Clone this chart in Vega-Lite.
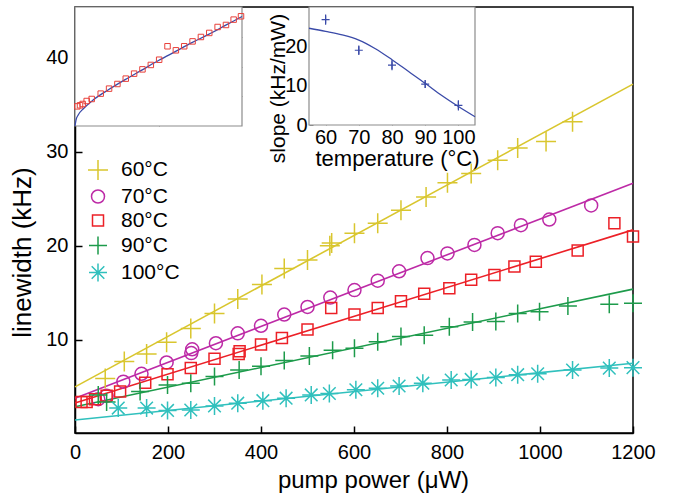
{
  "$schema": "https://vega.github.io/schema/vega-lite/v6.json",
  "width": 558,
  "height": 426,
  "autosize": {"type": "none"},
  "padding": {"left": 75, "top": 7, "right": 41, "bottom": 62},
  "background": "white",
  "config": {
    "font": "Liberation Sans",
    "view": {"stroke": "black", "strokeWidth": 1.5},
    "axis": {"grid": false, "labelFont": "Liberation Sans", "titleFont": "Liberation Sans", "labelColor": "black", "titleColor": "black", "titleFontWeight": "normal", "labelFlush": false, "labelOverlap": false},
    "legend": {"padding": 0, "labelFont": "Liberation Sans", "labelFontSize": 21, "labelColor": "black", "symbolStrokeWidth": 1.5, "rowPadding": 2, "labelOffset": 12}
  },
  "datasets": {
    "points": [
      {"series": "60°C", "x": 65, "y": 5.9}, {"series": "60°C", "x": 106, "y": 7.7}, {"series": "60°C", "x": 154, "y": 8.5}, {"series": "60°C", "x": 197, "y": 9.75}, {"series": "60°C", "x": 249, "y": 11.2}, {"series": "60°C", "x": 300, "y": 12.8}, {"series": "60°C", "x": 350, "y": 14.35}, {"series": "60°C", "x": 402, "y": 15.9}, {"series": "60°C", "x": 450, "y": 17.6}, {"series": "60°C", "x": 500, "y": 18.5}, {"series": "60°C", "x": 548, "y": 20.0}, {"series": "60°C", "x": 552, "y": 20.3}, {"series": "60°C", "x": 601, "y": 21.35}, {"series": "60°C", "x": 651, "y": 22.4}, {"series": "60°C", "x": 701, "y": 23.8}, {"series": "60°C", "x": 755, "y": 25.2}, {"series": "60°C", "x": 801, "y": 26.7}, {"series": "60°C", "x": 852, "y": 27.7}, {"series": "60°C", "x": 909, "y": 29.1}, {"series": "60°C", "x": 952, "y": 30.4}, {"series": "60°C", "x": 1013, "y": 31.1}, {"series": "60°C", "x": 1070, "y": 33.2},
      {"series": "70°C", "x": 50, "y": 3.7}, {"series": "70°C", "x": 68, "y": 4.05}, {"series": "70°C", "x": 104, "y": 5.56}, {"series": "70°C", "x": 143, "y": 6.4}, {"series": "70°C", "x": 197, "y": 7.6}, {"series": "70°C", "x": 250, "y": 8.6}, {"series": "70°C", "x": 252, "y": 9.0}, {"series": "70°C", "x": 303, "y": 9.65}, {"series": "70°C", "x": 350, "y": 10.7}, {"series": "70°C", "x": 400, "y": 11.5}, {"series": "70°C", "x": 450, "y": 12.7}, {"series": "70°C", "x": 500, "y": 13.5}, {"series": "70°C", "x": 549, "y": 14.5}, {"series": "70°C", "x": 601, "y": 15.3}, {"series": "70°C", "x": 651, "y": 16.3}, {"series": "70°C", "x": 697, "y": 17.3}, {"series": "70°C", "x": 758, "y": 18.7}, {"series": "70°C", "x": 801, "y": 19.2}, {"series": "70°C", "x": 859, "y": 20.1}, {"series": "70°C", "x": 909, "y": 21.35}, {"series": "70°C", "x": 959, "y": 22.2}, {"series": "70°C", "x": 1020, "y": 22.8}, {"series": "70°C", "x": 1110, "y": 24.3},
      {"series": "80°C", "x": 14, "y": 3.4}, {"series": "80°C", "x": 25, "y": 3.4}, {"series": "80°C", "x": 43, "y": 3.7}, {"series": "80°C", "x": 68, "y": 4.05}, {"series": "80°C", "x": 97, "y": 4.5}, {"series": "80°C", "x": 151, "y": 5.45}, {"series": "80°C", "x": 199, "y": 6.35}, {"series": "80°C", "x": 249, "y": 7.0}, {"series": "80°C", "x": 300, "y": 8.0}, {"series": "80°C", "x": 352, "y": 8.5}, {"series": "80°C", "x": 354, "y": 8.8}, {"series": "80°C", "x": 400, "y": 9.5}, {"series": "80°C", "x": 445, "y": 10.2}, {"series": "80°C", "x": 500, "y": 11.1}, {"series": "80°C", "x": 551, "y": 13.4}, {"series": "80°C", "x": 601, "y": 12.7}, {"series": "80°C", "x": 651, "y": 13.4}, {"series": "80°C", "x": 701, "y": 14.1}, {"series": "80°C", "x": 751, "y": 14.9}, {"series": "80°C", "x": 805, "y": 15.5}, {"series": "80°C", "x": 852, "y": 16.4}, {"series": "80°C", "x": 902, "y": 16.9}, {"series": "80°C", "x": 945, "y": 17.8}, {"series": "80°C", "x": 991, "y": 18.3}, {"series": "80°C", "x": 1081, "y": 19.5}, {"series": "80°C", "x": 1160, "y": 22.4}, {"series": "80°C", "x": 1200, "y": 21.0},
      {"series": "90°C", "x": 50, "y": 4.15}, {"series": "90°C", "x": 68, "y": 3.4}, {"series": "90°C", "x": 140, "y": 4.5}, {"series": "90°C", "x": 199, "y": 5.2}, {"series": "90°C", "x": 249, "y": 5.4}, {"series": "90°C", "x": 300, "y": 6.1}, {"series": "90°C", "x": 353, "y": 6.8}, {"series": "90°C", "x": 400, "y": 7.2}, {"series": "90°C", "x": 450, "y": 7.8}, {"series": "90°C", "x": 504, "y": 8.3}, {"series": "90°C", "x": 554, "y": 8.9}, {"series": "90°C", "x": 601, "y": 9.1}, {"series": "90°C", "x": 651, "y": 9.8}, {"series": "90°C", "x": 701, "y": 10.35}, {"series": "90°C", "x": 751, "y": 10.5}, {"series": "90°C", "x": 805, "y": 11.4}, {"series": "90°C", "x": 855, "y": 11.9}, {"series": "90°C", "x": 905, "y": 11.95}, {"series": "90°C", "x": 952, "y": 12.8}, {"series": "90°C", "x": 999, "y": 13.0}, {"series": "90°C", "x": 1060, "y": 13.6}, {"series": "90°C", "x": 1149, "y": 13.8}, {"series": "90°C", "x": 1200, "y": 13.9},
      {"series": "100°C", "x": 93, "y": 2.75}, {"series": "100°C", "x": 154, "y": 2.75}, {"series": "100°C", "x": 199, "y": 2.5}, {"series": "100°C", "x": 249, "y": 2.55}, {"series": "100°C", "x": 300, "y": 2.98}, {"series": "100°C", "x": 350, "y": 3.27}, {"series": "100°C", "x": 404, "y": 3.54}, {"series": "100°C", "x": 454, "y": 3.8}, {"series": "100°C", "x": 508, "y": 4.15}, {"series": "100°C", "x": 547, "y": 4.3}, {"series": "100°C", "x": 604, "y": 4.7}, {"series": "100°C", "x": 651, "y": 4.86}, {"series": "100°C", "x": 697, "y": 5.1}, {"series": "100°C", "x": 748, "y": 5.4}, {"series": "100°C", "x": 809, "y": 5.74}, {"series": "100°C", "x": 852, "y": 5.8}, {"series": "100°C", "x": 905, "y": 6.0}, {"series": "100°C", "x": 952, "y": 6.3}, {"series": "100°C", "x": 995, "y": 6.4}, {"series": "100°C", "x": 1070, "y": 6.8}, {"series": "100°C", "x": 1149, "y": 7.0}, {"series": "100°C", "x": 1200, "y": 7.05}
    ],
    "fits": [
      {"series": "60°C", "x": 0, "y": 5.0}, {"series": "60°C", "x": 1200, "y": 37.2},
      {"series": "70°C", "x": 0, "y": 3.8}, {"series": "70°C", "x": 1200, "y": 26.67},
      {"series": "80°C", "x": 0, "y": 3.3}, {"series": "80°C", "x": 1200, "y": 21.7},
      {"series": "90°C", "x": 0, "y": 2.9}, {"series": "90°C", "x": 1200, "y": 15.4},
      {"series": "100°C", "x": 0, "y": 1.49}, {"series": "100°C", "x": 1200, "y": 7.52}
    ],
    "ins1pts": [
      {"x": 1.4, "y": 16.5}, {"x": 3, "y": 17.4}, {"x": 4.6, "y": 18.5}, {"x": 7, "y": 21}, {"x": 10, "y": 22.7}, {"x": 15.4, "y": 27.2}, {"x": 20.4, "y": 31.4}, {"x": 25.4, "y": 35.3}, {"x": 30.4, "y": 39.8}, {"x": 35.4, "y": 44}, {"x": 40.4, "y": 47.6}, {"x": 45.4, "y": 51.3}, {"x": 50.4, "y": 55.7}, {"x": 55.4, "y": 67}, {"x": 60.4, "y": 63.6}, {"x": 65.4, "y": 67}, {"x": 70.4, "y": 71.1}, {"x": 75.4, "y": 74.8}, {"x": 80.4, "y": 78.2}, {"x": 85.4, "y": 83.2}, {"x": 90.4, "y": 84.9}, {"x": 95, "y": 89.4}, {"x": 99.4, "y": 92.2}
    ],
    "ins1fit": [
      {"x": 0, "y": 0}, {"x": 0.6, "y": 5}, {"x": 2, "y": 9.5}, {"x": 5, "y": 14.5}, {"x": 11, "y": 22}, {"x": 20, "y": 30.5}, {"x": 30, "y": 39}, {"x": 40, "y": 47}, {"x": 50, "y": 55}, {"x": 60, "y": 62.5}, {"x": 70, "y": 70}, {"x": 80, "y": 77}, {"x": 90, "y": 84.5}, {"x": 100, "y": 92}
    ],
    "ins2pts": [
      {"t": 60, "s": 26.8, "lo": 25.5, "hi": 28.1}, {"t": 70, "s": 19.0, "lo": 17.8, "hi": 20.2}, {"t": 80, "s": 15.2, "lo": 13.9, "hi": 16.5}, {"t": 90, "s": 10.4, "lo": 9.4, "hi": 11.4}, {"t": 100, "s": 5.0, "lo": 3.7, "hi": 6.3}
    ],
    "ins2fit": [
      {"t": 55, "s": 24.6}, {"t": 60, "s": 23.8}, {"t": 65, "s": 22.9}, {"t": 70, "s": 21.6}, {"t": 75, "s": 19.4}, {"t": 80, "s": 16.6}, {"t": 85, "s": 13.6}, {"t": 90, "s": 10.6}, {"t": 95, "s": 7.5}, {"t": 100, "s": 4.7}, {"t": 105, "s": 2.1}
    ]
  },
  "layer": [
    {
      "layer": [
        {
          "data": {"name": "fits"},
          "mark": {"type": "line", "strokeWidth": 1.6},
          "encoding": {
            "x": {"field": "x", "type": "quantitative", "scale": {"domain": [0, 1200], "nice": false, "zero": false},
              "axis": {"orient": "bottom", "values": [0, 200, 400, 600, 800, 1000, 1200], "format": "d", "tickSize": -7, "tickWidth": 1.5, "tickColor": "black", "domainColor": "black", "domainWidth": 1.5, "labelFontSize": 20, "labelPadding": 16, "title": "pump power (μW)", "titleFontSize": 24, "titleX": 298, "titleY": 47, "titleBaseline": "middle"}},
            "y": {"field": "y", "type": "quantitative", "scale": {"domain": [0.1, 45.4], "nice": false, "zero": false},
              "axis": {"orient": "left", "values": [10, 20, 30, 40], "tickSize": -7, "tickWidth": 1.5, "tickColor": "black", "domainColor": "black", "domainWidth": 1.5, "labelFontSize": 20, "labelPadding": 14, "title": "linewidth (kHz)", "titleFontSize": 26, "titleX": -53, "titleY": 245, "titleBaseline": "middle", "titleAngle": 270}},
            "stroke": {"field": "series", "type": "nominal", "sort": null, "scale": {"range": ["#d9c62e", "#bd2aa6", "#ec2027", "#1d9b4b", "#30c0bd"]}, "legend": null}
          }
        },
        {
          "data": {"name": "points"},
          "mark": {"type": "point", "filled": false, "strokeWidth": 1.5, "opacity": 1},
          "encoding": {
            "x": {"field": "x", "type": "quantitative"},
            "y": {"field": "y", "type": "quantitative"},
            "color": {"field": "series", "type": "nominal", "scale": {"domain": ["60°C", "70°C", "80°C", "90°C", "100°C"], "range": ["#d9c62e", "#bd2aa6", "#ec2027", "#1d9b4b", "#30c0bd"]}, "legend": {"title": null, "orient": "none", "legendX": 12, "legendY": 152}},
            "shape": {"field": "series", "type": "nominal", "scale": {"domain": ["60°C", "70°C", "80°C", "90°C", "100°C"], "range": ["M-1,0L1,0M0,-1L0,1", "circle", "square", "M-1,0L1,0M0,-1L0,1", "M-1,0L1,0M0,-1L0,1M-0.7,-0.7L0.7,0.7M-0.7,0.7L0.7,-0.7"]}, "legend": {"title": null, "orient": "none", "legendX": 12, "legendY": 152}},
            "size": {"field": "series", "type": "nominal", "scale": {"type": "ordinal", "domain": ["60°C", "70°C", "80°C", "90°C", "100°C"], "range": [400, 169, 121, 324, 324]}, "legend": {"title": null, "orient": "none", "legendX": 12, "legendY": 152}}
          }
        }
      ]
    },
    {
      "layer": [
        {
          "data": {"values": [{"x0": 0, "x1": 100, "y0": 0, "y1": 100}]},
          "mark": {"type": "rect", "fill": "white", "stroke": "#8c8c8c", "strokeWidth": 1.2},
          "encoding": {
            "x": {"field": "x0", "type": "quantitative", "scale": {"domain": [0, 100], "range": [0, 167], "nice": false, "zero": false},
              "axis": {"orient": "bottom", "offset": -307, "values": [50], "labels": false, "domain": false, "tickSize": -4, "tickColor": "#8c8c8c", "title": null}},
            "x2": {"field": "x1"},
            "y": {"field": "y0", "type": "quantitative", "scale": {"domain": [0, 100], "range": [119, 0], "nice": false, "zero": false},
              "axis": {"orient": "right", "offset": -391, "values": [25, 50, 75], "labels": false, "domain": false, "tickSize": -4, "tickColor": "#8c8c8c", "title": null}},
            "y2": {"field": "y1"}
          }
        },
        {
          "data": {"name": "ins1fit"},
          "mark": {"type": "line", "color": "#3a4aa8", "strokeWidth": 1.3, "interpolate": "monotone"},
          "encoding": {
            "x": {"field": "x", "type": "quantitative"},
            "y": {"field": "y", "type": "quantitative"}
          }
        },
        {
          "data": {"name": "ins1pts"},
          "mark": {"type": "point", "shape": "square", "filled": false, "color": "#e8403a", "size": 30, "strokeWidth": 1, "opacity": 1},
          "encoding": {
            "x": {"field": "x", "type": "quantitative"},
            "y": {"field": "y", "type": "quantitative"}
          }
        }
      ]
    },
    {
      "layer": [
        {
          "data": {"values": [{"x0": 55, "x1": 105, "y0": 0, "y1": 30}]},
          "mark": {"type": "rect", "fill": "white", "stroke": "#8c8c8c", "strokeWidth": 1.2},
          "encoding": {
            "x": {"field": "x0", "type": "quantitative", "scale": {"domain": [55, 105], "range": [234, 400], "nice": false, "zero": false},
              "axis": {"orient": "bottom", "offset": -308, "values": [60, 70, 80, 90, 100], "domain": false, "tickSize": -4, "tickColor": "#8c8c8c", "labelFontSize": 20, "labelPadding": 6, "title": "temperature (°C)", "titleFontSize": 22, "titleX": 322, "titleY": 33, "titleBaseline": "middle"}},
            "x2": {"field": "x1"},
            "y": {"field": "y0", "type": "quantitative", "scale": {"domain": [0, 30], "range": [118, 0], "nice": false, "zero": false},
              "axis": {"orient": "left", "offset": -234, "values": [0, 10, 20], "domain": false, "tickSize": -4, "tickColor": "#8c8c8c", "labelFontSize": 20, "labelPadding": 6, "title": "slope (kHz/mW)", "titleFontSize": 21, "titleX": -31, "titleY": 81, "titleBaseline": "middle", "titleAngle": 270}},
            "y2": {"field": "y1"}
          }
        },
        {
          "data": {"name": "ins2fit"},
          "mark": {"type": "line", "color": "#3a4aa8", "strokeWidth": 1.3, "interpolate": "monotone"},
          "encoding": {
            "x": {"field": "t", "type": "quantitative"},
            "y": {"field": "s", "type": "quantitative"}
          }
        },
        {
          "data": {"name": "ins2pts"},
          "mark": {"type": "rule", "color": "#3a4aa8", "strokeWidth": 1.2},
          "encoding": {
            "x": {"field": "t", "type": "quantitative"},
            "y": {"field": "lo", "type": "quantitative"},
            "y2": {"field": "hi"}
          }
        },
        {
          "data": {"name": "ins2pts"},
          "mark": {"type": "point", "shape": "M-1,0L1,0M0,-1L0,1", "filled": false, "color": "#3a4aa8", "size": 64, "strokeWidth": 1.2, "opacity": 1},
          "encoding": {
            "x": {"field": "t", "type": "quantitative"},
            "y": {"field": "s", "type": "quantitative"}
          }
        }
      ]
    }
  ],
  "resolve": {"scale": {"x": "independent", "y": "independent"}, "axis": {"x": "independent", "y": "independent"}}
}
